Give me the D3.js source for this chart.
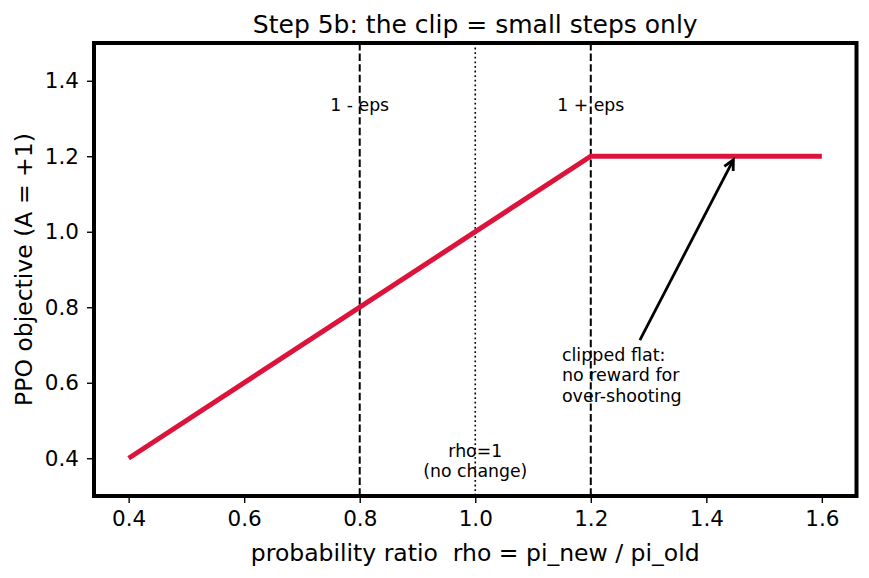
<!DOCTYPE html>
<html>
<head>
<meta charset="utf-8">
<script src="https://cdn.jsdelivr.net/npm/d3@7"></script>
<style>
    body { margin: 0; background: #fff; }
    svg text { font-family: "DejaVu Sans", sans-serif; fill: #000; white-space: pre; }
</style>
</head>
<body>
<div id="chart"></div>
<script>
// PPO clipped objective for A = +1
var rhoValues = [0.4, 1.2, 1.6];
var objectiveValues = [0.4, 1.2, 1.2];

var xTicks = [0.4, 0.6, 0.8, 1.0, 1.2, 1.4, 1.6];
var yTicks = [0.4, 0.6, 0.8, 1.0, 1.2, 1.4];

// reference lines: 1 - eps, rho = 1, 1 + eps
var refLines = [
    {x: 0.8, style: "dashed", label: ["1 - eps"], labelY: 1.32},
    {x: 1.0, style: "dotted", label: ["rho=1", "(no change)"], labelY: 0.35},
    {x: 1.2, style: "dashed", label: ["1 + eps"], labelY: 1.32}
];

var noteLines = ["clipped flat:", "no reward for", "over-shooting"];
var notePos = [1.15, 0.55];
var arrowTip = [1.45, 1.2];

var width = 869, height = 578;
var plotLeft = 94, plotRight = 856.5, plotTop = 43, plotBottom = 496;

var svg = d3.select("#chart")
    .append("svg")
    .attr("width", width)
    .attr("height", height);

var x = d3.scaleLinear().domain([0.34, 1.66]).range([plotLeft, plotRight]);
var y = d3.scaleLinear().domain([0.3, 1.5]).range([plotBottom, plotTop]);

//Axes with matplotlib-like outward ticks
var xAxis = svg.append("g")
    .attr("transform", "translate(0," + plotBottom + ")")
    .call(d3.axisBottom(x).tickValues(xTicks).tickSize(7).tickPadding(8)
        .tickFormat(d3.format(".1f")));
var yAxis = svg.append("g")
    .attr("transform", "translate(" + plotLeft + ",0)")
    .call(d3.axisLeft(y).tickValues(yTicks).tickSize(7).tickPadding(8)
        .tickFormat(d3.format(".1f")));

[xAxis, yAxis].forEach(function (g) {
    g.attr("font-size", null).attr("font-family", null);
    g.select(".domain").remove();
    g.selectAll(".tick line").attr("stroke", "#000").attr("stroke-width", 1.4);
    g.selectAll(".tick text")
        .style("font-size", "21.5px");
});

//Reference lines
var ref = svg.append("g");
refLines.forEach(function (r) {
    ref.append("line")
        .attr("x1", x(r.x)).attr("x2", x(r.x))
        .attr("y1", plotTop).attr("y2", plotBottom)
        .attr("stroke", "#000")
        .attr("stroke-width", r.style === "dashed" ? 2 : 1.6)
        .attr("stroke-dasharray", r.style === "dashed" ? "7.4,3.2" : "1.8,2.8");

    var n = r.label.length;
    var t = ref.append("text")
        .attr("text-anchor", "middle")
        .style("font-size", "17.3px");
    r.label.forEach(function (s, i) {
        t.append("tspan")
            .attr("x", x(r.x))
            .attr("y", y(r.labelY) - (n - 1 - i) * 20.5)
            .text(s);
    });
});

//The clipped objective curve
var line = d3.line()
    .x(function (d, i) { return x(rhoValues[i]); })
    .y(function (d, i) { return y(objectiveValues[i]); });

svg.append("path")
    .datum(rhoValues)
    .attr("d", line)
    .attr("fill", "none")
    .attr("stroke", "crimson")
    .attr("stroke-width", 5);

//Note text with arrow pointing at the flat part
var note = svg.append("text").style("font-size", "17.5px");
noteLines.forEach(function (s, i) {
    note.append("tspan")
        .attr("x", x(notePos[0]))
        .attr("y", y(notePos[1]) - (noteLines.length - 1 - i) * 20.5)
        .text(s);
});

var bb = note.node().getBBox();
var cx = bb.x + bb.width / 2, cy = bb.y + bb.height / 2;
var tx = x(arrowTip[0]), ty = y(arrowTip[1]);
var dx = tx - cx, dy = ty - cy, len = Math.sqrt(dx * dx + dy * dy);
var ux = dx / len, uy = dy / len;
// start where the line leaves the text box, plus a little gap
var tTop = (bb.y - cy) / uy;
var sx = cx + ux * (tTop + 5), sy = cy + uy * (tTop + 5);
var ex = tx - ux * 4, ey = ty - uy * 4;

svg.append("line")
    .attr("x1", sx).attr("y1", sy)
    .attr("x2", ex).attr("y2", ey)
    .attr("stroke", "#000")
    .attr("stroke-width", 2.8);

var hl = 10, hw = 5;
var bx = ex - ux * hl, by = ey - uy * hl;
svg.append("path")
    .attr("d", "M" + (bx - uy * hw) + "," + (by + ux * hw) +
        "L" + ex + "," + ey +
        "L" + (bx + uy * hw) + "," + (by - ux * hw))
    .attr("fill", "none")
    .attr("stroke", "#000")
    .attr("stroke-width", 2.8)
    .attr("stroke-linejoin", "miter");

//Frame
svg.append("rect")
    .attr("x", plotLeft).attr("y", plotTop)
    .attr("width", plotRight - plotLeft).attr("height", plotBottom - plotTop)
    .attr("fill", "none")
    .attr("stroke", "#000")
    .attr("stroke-width", 4);

//Titles
svg.append("text")
    .attr("x", (plotLeft + plotRight) / 2)
    .attr("y", 33)
    .attr("text-anchor", "middle")
    .style("font-size", "25px")
    .text("Step 5b: the clip = small steps only");

svg.append("text")
    .attr("x", (plotLeft + plotRight) / 2)
    .attr("y", 561)
    .attr("text-anchor", "middle")
    .style("font-size", "23.5px")
    .text("probability ratio  rho = pi_new / pi_old");

svg.append("text")
    .attr("transform", "translate(32," + (plotTop + plotBottom) / 2 + ") rotate(-90)")
    .attr("text-anchor", "middle")
    .style("font-size", "23.5px")
    .text("PPO objective (A = +1)");
</script>
</body>
</html>
